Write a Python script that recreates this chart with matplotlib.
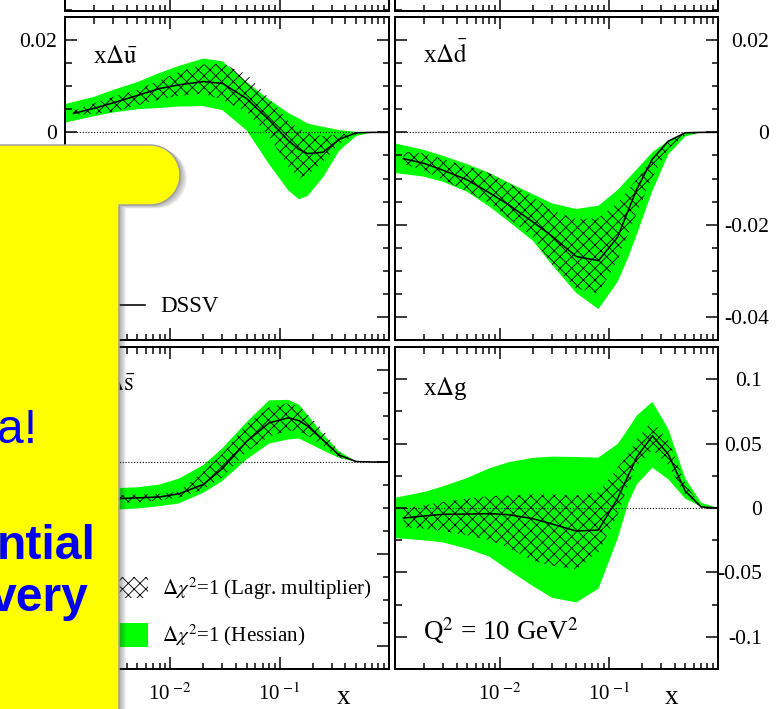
import numpy as np
import matplotlib
matplotlib.use("Agg")
import matplotlib.pyplot as plt
from matplotlib.ticker import LogLocator, MultipleLocator, FuncFormatter, NullFormatter
from matplotlib.patches import Rectangle, PathPatch
from matplotlib.path import Path

plt.rcParams['font.family'] = ['Liberation Serif', 'DejaVu Serif']
plt.rcParams['mathtext.fontset'] = 'stix'
plt.rcParams['axes.unicode_minus'] = False
plt.rcParams['hatch.linewidth'] = 0.9

DPI = 70
W, H = 782, 709
GREEN = '#00ff00'
YELLOW = '#ffff00'
BLUE = '#0000f0'
XMIN = 1.088e-3

# x grids: lines / hatched band start a bit in, the green band starts at the edge
X_LINE = [0.0013, 0.002, 0.003, 0.005, 0.008, 0.012, 0.02, 0.03, 0.05, 0.08,
          0.12, 0.15, 0.18, 0.25, 0.35, 0.5, 0.7, 1.0]
X_BAND = [0.001] + X_LINE[1:]

# x Delta ubar
ubar_c = [0.0041, 0.0052, 0.0064, 0.0080, 0.0095, 0.0103, 0.0110, 0.0106, 0.0073, 0.0027,
          -0.0018, -0.0037, -0.0046, -0.0043, -0.0015, -0.0001, 0.0, 0.0]
ubar_hi = [0.0059, 0.0077, 0.0092, 0.0109, 0.0129, 0.0144, 0.0160, 0.0154, 0.0109, 0.0071,
           0.0042, 0.0030, 0.0019, 0.0012, 0.0005, 0.0001, 0.0, 0.0]
ubar_lo = [0.0019, 0.0035, 0.0043, 0.0050, 0.0053, 0.0056, 0.0057, 0.0048, 0.0004, -0.0069,
           -0.0126, -0.0145, -0.0138, -0.0097, -0.0040, -0.0008, 0.0, 0.0]
ubar_lhi = [0.0047, 0.0063, 0.0077, 0.0092, 0.0113, 0.0131, 0.0147, 0.0149, 0.0126, 0.0074,
            0.0025, 0.0009, -0.0002, -0.0008, -0.0005, -0.0001, 0.0, 0.0]
ubar_llo = [0.0038, 0.0040, 0.0044, 0.0059, 0.0071, 0.0079, 0.0084, 0.0070, 0.0045, -0.0009,
            -0.0074, -0.0100, -0.0092, -0.0064, -0.0025, -0.0004, 0.0, 0.0]

# x Delta dbar
dbar_c = [-0.0057, -0.0067, -0.0082, -0.0103, -0.0131, -0.0157, -0.0194, -0.0225, -0.0269, -0.0278,
          -0.0227, -0.0169, -0.0123, -0.0058, -0.0019, -0.0001, 0.0, 0.0]
dbar_hi = [-0.0022, -0.0038, -0.0051, -0.0069, -0.0088, -0.0109, -0.0134, -0.0154, -0.0166, -0.0159,
           -0.0125, -0.0100, -0.0080, -0.0043, -0.0018, -0.0002, 0.0, 0.0]
dbar_lo = [-0.0087, -0.0096, -0.0107, -0.0129, -0.0161, -0.0193, -0.0235, -0.0287, -0.0348, -0.0383,
           -0.0324, -0.0271, -0.0221, -0.0127, -0.0048, -0.0009, 0.0, 0.0]
dbar_lhi = [-0.0042, -0.0045, -0.0058, -0.0074, -0.0088, -0.0110, -0.0139, -0.0169, -0.0188, -0.0186,
            -0.0152, -0.0125, -0.0101, -0.0056, -0.0017, -0.0002, 0.0, 0.0]
dbar_llo = [-0.0069, -0.0082, -0.0103, -0.0129, -0.0153, -0.0186, -0.0227, -0.0287, -0.0338, -0.0349,
            -0.0277, -0.0220, -0.0175, -0.0097, -0.0035, -0.0006, 0.0, 0.0]

# x Delta sbar
sbar_c = [-0.0080, -0.0080, -0.0080, -0.0078, -0.0076, -0.0069, -0.0049, -0.0014, 0.0045, 0.0085,
          0.0096, 0.0090, 0.0078, 0.0047, 0.0015, 0.0001, 0.0, 0.0]
sbar_hi = [-0.0058, -0.0058, -0.0057, -0.0055, -0.0049, -0.0036, -0.0007, 0.0030, 0.0087, 0.0134,
           0.0135, 0.0125, 0.0102, 0.0060, 0.0023, 0.0001, 0.0, 0.0]
sbar_lo = [-0.0105, -0.0105, -0.0104, -0.0101, -0.0096, -0.0090, -0.0067, -0.0041, 0.0006, 0.0040,
           0.0049, 0.0051, 0.0042, 0.0025, 0.0009, 0.0001, 0.0, 0.0]
sbar_lhi = [-0.0073, -0.0073, -0.0072, -0.0071, -0.0069, -0.0064, -0.0021, 0.0018, 0.0082, 0.0119,
            0.0128, 0.0122, 0.0104, 0.0070, 0.0022, 0.0002, 0.0, 0.0]
sbar_llo = [-0.0089, -0.0089, -0.0089, -0.0088, -0.0083, -0.0077, -0.0060, -0.0033, 0.0023, 0.0055,
            0.0068, 0.0068, 0.0057, 0.0036, 0.0009, 0.0, 0.0, 0.0]

# x Delta g
g_c = [-0.0078, -0.0062, -0.0049, -0.0047, -0.0044, -0.0052, -0.0083, -0.0124, -0.0179, -0.0171,
       0.0075, 0.0251, 0.0396, 0.0560, 0.0417, 0.0132, 0.0008, 0.0]
g_hi = [0.0073, 0.0124, 0.0168, 0.0233, 0.0308, 0.0355, 0.0389, 0.0399, 0.0396, 0.0391,
        0.0497, 0.0614, 0.0718, 0.0824, 0.0614, 0.0231, 0.0041, 0.0]
g_lo = [-0.0231, -0.0251, -0.0267, -0.0316, -0.0378, -0.0482, -0.0606, -0.0697, -0.0733, -0.0627,
        -0.0237, 0.0036, 0.0184, 0.0313, 0.0223, 0.0073, 0.0010, 0.0]
g_lhi = [-0.0005, 0.0021, 0.0047, 0.0073, 0.0093, 0.0098, 0.0104, 0.0104, 0.0098, 0.0124,
         0.0313, 0.0420, 0.0539, 0.0674, 0.0526, 0.0192, 0.0008, 0.0]
g_llo = [-0.0148, -0.0161, -0.0179, -0.0212, -0.0249, -0.0308, -0.0409, -0.0448, -0.0477, -0.0347,
         -0.0052, 0.0179, 0.0332, 0.0448, 0.0334, 0.0101, 0.0008, 0.0]


def pt(px):
    return px * 72.0 / DPI


def box(left, top, right, bottom):
    return [left / W, 1 - bottom / H, (right - left) / W, (bottom - top) / H]


def yfmt(v, pos):
    if abs(v) < 1e-9:
        return '0'
    return '%g' % round(v, 4)


def xfmt(v, pos):
    e = int(round(np.log10(v)))
    if e in (-2, -1):
        return r'10$^{\ \mathrm{-%d}}$' % abs(e)
    return ''


def style(ax, ylim=(-0.045, 0.025), major=0.02, minor=0.005, side='left',
          xlabels=False, label_pad=8):
    ax.set_xscale('log')
    ax.set_xlim(XMIN, 1.0)
    ax.set_ylim(*ylim)
    ax.xaxis.set_major_locator(LogLocator(base=10, numticks=10))
    ax.xaxis.set_minor_locator(LogLocator(base=10, subs=np.arange(2, 10), numticks=10))
    ax.xaxis.set_minor_formatter(NullFormatter())
    ax.yaxis.set_major_locator(MultipleLocator(major))
    ax.yaxis.set_minor_locator(MultipleLocator(minor))
    ax.yaxis.set_major_formatter(FuncFormatter(yfmt))
    if xlabels:
        ax.xaxis.set_major_formatter(FuncFormatter(xfmt))
    ax.tick_params(which='both', direction='in', top=True, bottom=True, left=True, right=True,
                   width=pt(1.5), labelbottom=xlabels)
    ax.tick_params(which='major', length=pt(12))
    ax.tick_params(which='minor', length=pt(6.5))
    ax.tick_params(axis='x', labelsize=pt(21), pad=pt(14))
    ax.tick_params(axis='y', labelsize=pt(21.5), pad=pt(label_pad))
    if side == 'right':
        ax.tick_params(axis='y', labelleft=False, labelright=True)
        for t in ax.yaxis.get_major_ticks():
            t.label2.set_horizontalalignment('right')
    elif side == 'none':
        ax.tick_params(axis='y', labelleft=False)
    for s in ax.spines.values():
        s.set_linewidth(pt(2))


def draw_panel(ax, c, lo, hi, llo, lhi):
    ax.fill_between(X_BAND, lo, hi, facecolor=GREEN, edgecolor='none', lw=0, zorder=1)
    ax.fill_between(X_LINE, llo, lhi, facecolor='none', edgecolor='black', hatch='xx',
                    lw=0, zorder=2)
    ax.axhline(0, color='black', ls=(0, (1, 1.6)), lw=pt(1.1), zorder=2.5)
    ax.plot(X_LINE, c, color='black', lw=pt(1.6), zorder=3)


fig = plt.figure(figsize=(W / DPI, H / DPI), dpi=DPI)
fig.patch.set_facecolor('white')

# bottom edge of the row of panels above (cut off by the crop)
for l, r in ((65, 389), (395, 718)):
    axu = fig.add_axes(box(l, 10.5 - 323, r, 10.5))
    style(axu, side='none')

ax_u = fig.add_axes(box(65, 17, 389, 340))
ax_d = fig.add_axes(box(395, 17, 718, 340))
ax_s = fig.add_axes(box(65, 347, 389, 669))
ax_g = fig.add_axes(box(395, 347, 718, 669))

style(ax_u, side='left')
style(ax_d, side='right', label_pad=51)
# its tick labels sit completely under the yellow box
style(ax_s, side='none', xlabels=True)
style(ax_g, ylim=(-0.125, 0.125), major=0.05, minor=0.025, side='right', xlabels=True,
      label_pad=44)

draw_panel(ax_u, ubar_c, ubar_lo, ubar_hi, ubar_llo, ubar_lhi)
draw_panel(ax_d, dbar_c, dbar_lo, dbar_hi, dbar_llo, dbar_lhi)
draw_panel(ax_s, sbar_c, sbar_lo, sbar_hi, sbar_llo, sbar_lhi)
draw_panel(ax_g, g_c, g_lo, g_hi, g_llo, g_lhi)

lab = dict(fontsize=pt(25), va='baseline', ha='left')
ax_u.text(0.086, 0.858, r'x$\Delta\bar{\mathrm{u}}$', transform=ax_u.transAxes, **lab)
ax_d.text(0.087, 0.858, r'x$\Delta\bar{\mathrm{d}}$', transform=ax_d.transAxes, **lab)
ax_s.text(0.086, 0.866, r'x$\Delta\bar{\mathrm{s}}$', transform=ax_s.transAxes, **lab)
ax_g.text(0.087, 0.851, r'x$\Delta$g', transform=ax_g.transAxes, **lab)
ax_g.text(0.087, 0.09, r'Q$^2$ = 10 GeV$^2$', transform=ax_g.transAxes,
          fontsize=pt(27), va='baseline')

for ax, xf in ((ax_s, 0.84), (ax_g, 0.836)):
    ax.text(xf, -0.11, 'x', transform=ax.transAxes, fontsize=pt(27), va='baseline')

# legends
ax_u.plot([0.08, 0.247], [0.108, 0.108], color='black', lw=pt(1.6),
          transform=ax_u.transAxes)
ax_u.text(0.293, 0.087, 'DSSV', transform=ax_u.transAxes, fontsize=pt(23), va='baseline')
ax_s.add_patch(Rectangle((0.08, 0.2205), 0.176, 0.065, transform=ax_s.transAxes,
                         facecolor='none', edgecolor='black', hatch='xx', lw=0))
ax_s.add_patch(Rectangle((0.08, 0.068), 0.176, 0.075, transform=ax_s.transAxes,
                         facecolor=GREEN, edgecolor='none'))
ax_s.text(0.299, 0.230, r'$\Delta\chi^2$=1 (Lagr. multiplier)', transform=ax_s.transAxes,
          fontsize=pt(21), va='baseline')
ax_s.text(0.299, 0.087, r'$\Delta\chi^2$=1 (Hessian)', transform=ax_s.transAxes,
          fontsize=pt(21), va='baseline')

# yellow slide box on top
ov = fig.add_axes([0, 0, 1, 1], zorder=10)
ov.set_xlim(0, W)
ov.set_ylim(H, 0)
ov.axis('off')
ov.patch.set_visible(False)

t = np.linspace(np.pi / 2, -np.pi / 2, 40)
verts = [(-20, 145), (150, 145)]
verts += list(zip(150 + 30 * np.cos(t), 175 - 30 * np.sin(t)))
verts += [(119, 205), (119, 740), (-20, 740), (-20, 145)]
shape = Path(verts, closed=True)
for i in range(1, 8):
    sh = Path(np.array(verts) + [i, 0.5 * i], closed=True)
    ov.add_patch(PathPatch(sh, facecolor='#404040', edgecolor='none', alpha=0.07))
ov.add_patch(PathPatch(shape, facecolor=YELLOW, edgecolor='#a0a0a0', lw=pt(1.5)))

sans = ['Liberation Sans', 'DejaVu Sans']
ov.text(37, 443, 'a!', ha='right', va='baseline', fontsize=pt(48), color=BLUE, family=sans)
ov.text(96, 559, 'ntial', ha='right', va='baseline', fontsize=pt(48), color=BLUE,
        family=sans, weight='bold')
ov.text(89, 611, 'very', ha='right', va='baseline', fontsize=pt(48), color=BLUE,
        family=sans, weight='bold')

fig.savefig('out.png', dpi=DPI)
